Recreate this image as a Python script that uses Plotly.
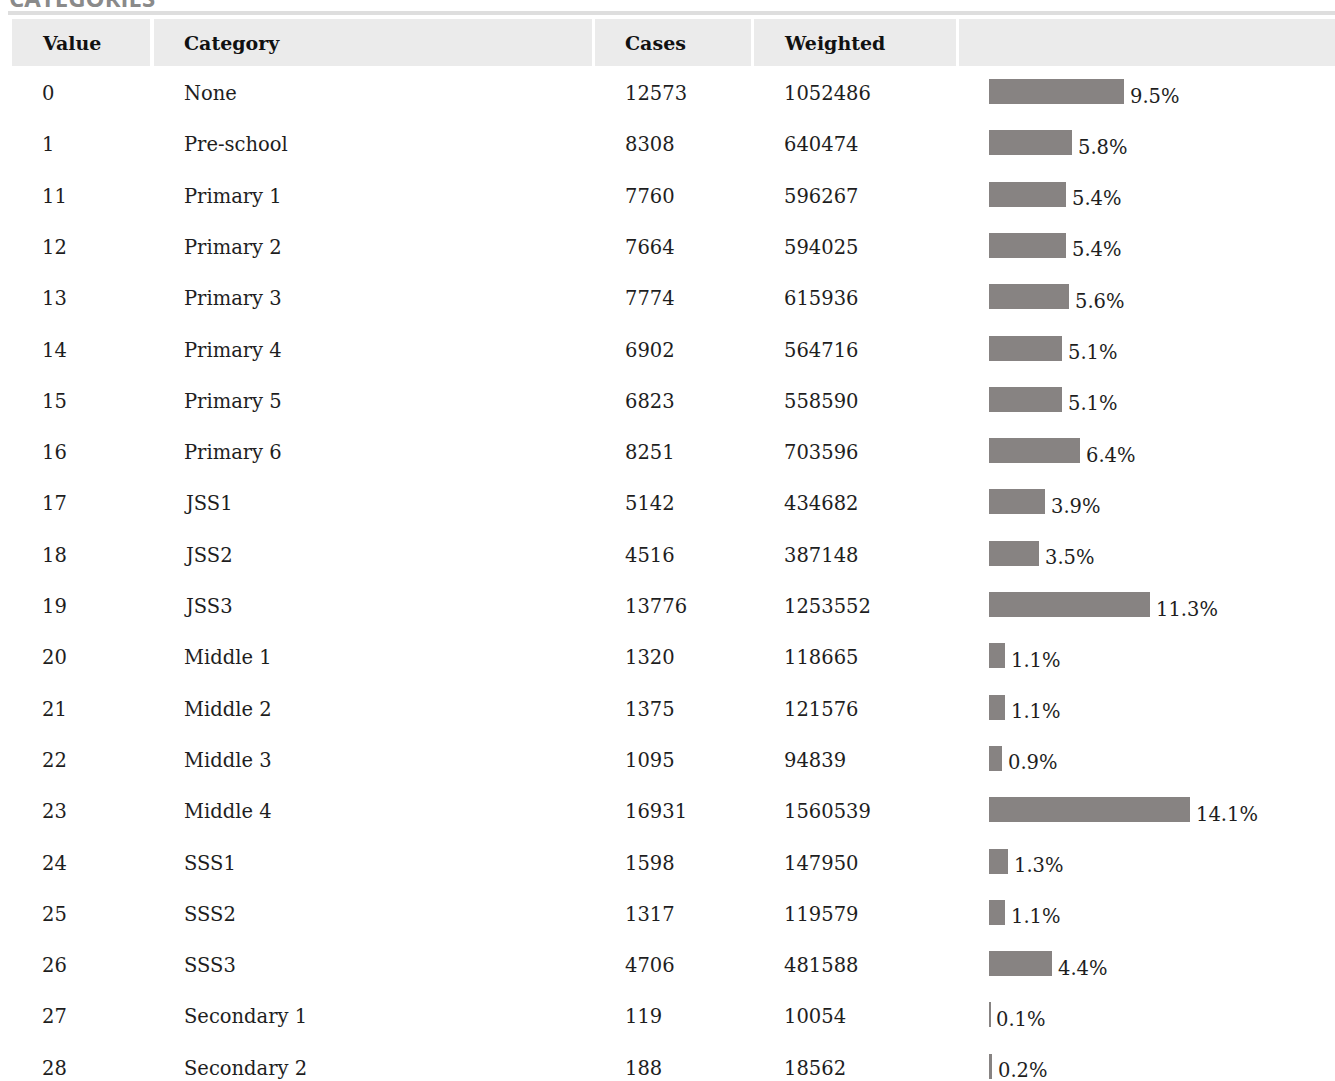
import plotly.graph_objects as go

# ---- data ----
values = ["0", "1", "11", "12", "13", "14", "15", "16", "17", "18", "19",
          "20", "21", "22", "23", "24", "25", "26", "27", "28"]
categories = ["None", "Pre-school", "Primary 1", "Primary 2", "Primary 3", "Primary 4",
              "Primary 5", "Primary 6", "JSS1", "JSS2", "JSS3", "Middle 1", "Middle 2",
              "Middle 3", "Middle 4", "SSS1", "SSS2", "SSS3", "Secondary 1", "Secondary 2"]
cases = [12573, 8308, 7760, 7664, 7774, 6902, 6823, 8251, 5142, 4516, 13776,
         1320, 1375, 1095, 16931, 1598, 1317, 4706, 119, 188]
weighted = [1052486, 640474, 596267, 594025, 615936, 564716, 558590, 703596, 434682, 387148,
            1253552, 118665, 121576, 94839, 1560539, 147950, 119579, 481588, 10054, 18562]
percent = [9.5, 5.8, 5.4, 5.4, 5.6, 5.1, 5.1, 6.4, 3.9, 3.5, 11.3,
           1.1, 1.1, 0.9, 14.1, 1.3, 1.1, 4.4, 0.1, 0.2]
headers = ["Value", "Category", "Cases", "Weighted", ""]
title = "CATEGORIES"

# ---- layout geometry (pixels) ----
W, H = 1335, 1081
ROW0 = 93.5          # pixel centre of first row
ROWH = 51.3          # row pitch
BAR_X0 = 989
PX_PER_PCT = 14.25
FONT = "DejaVu Serif"
BAR_COLOR = "#878382"

rows = list(range(len(values)))


def px(x):
    return x / W


def py(y):
    return 1 - y / H


fig = go.Figure()

fig.add_trace(go.Bar(
    x=percent, y=rows, orientation="h",
    marker=dict(color=BAR_COLOR, line=dict(width=0)),
    width=25 / ROWH, offset=-14.5 / ROWH,
    hoverinfo="skip", showlegend=False,
))

annotations = []
# title (partly cut at the top edge)
annotations.append(dict(text="<b>" + title + "</b>", xref="paper", yref="paper",
                        x=px(7), y=py(-3), xanchor="left", yanchor="middle",
                        showarrow=False,
                        font=dict(family="Open Sans", size=24, color="#8a8a8a")))

col_x = [40, 182, 623, 782]
for hx, h in zip(col_x, headers[:4]):
    annotations.append(dict(text="<b>" + h + "</b>", xref="paper", yref="paper",
                            x=px(hx), y=py(42.5), xanchor="left", yanchor="middle",
                            showarrow=False, font=dict(family=FONT, size=19, color="#111")))

for i in rows:
    for cx, txt in zip(col_x, [values[i], categories[i], str(cases[i]), str(weighted[i])]):
        annotations.append(dict(text=txt, xref="paper", yref="y", x=px(cx), y=i,
                                xanchor="left", yanchor="middle", showarrow=False,
                                font=dict(family=FONT, size=19.5, color="#1e1e1e")))
    annotations.append(dict(text=f"{percent[i]:.1f}%", xref="x", yref="y",
                            x=percent[i], y=i, xanchor="left", yanchor="middle",
                            xshift=4, yshift=-2.5, showarrow=False,
                            font=dict(family=FONT, size=19.5, color="#1e1e1e")))

shapes = []
# top rule
shapes.append(dict(type="rect", xref="paper", yref="paper", x0=px(8), x1=px(W),
                   y0=py(11), y1=py(15), fillcolor="#dedede", line=dict(width=0), layer="below"))
# header cells
for x0, x1 in [(12, 150), (154, 592), (595, 751), (754, 956), (959, W)]:
    shapes.append(dict(type="rect", xref="paper", yref="paper", x0=px(x0), x1=px(x1),
                       y0=py(19), y1=py(66), fillcolor="#ebebeb", line=dict(width=0),
                       layer="below"))

fig.update_layout(
    width=W, height=H,
    margin=dict(l=0, r=0, t=0, b=0),
    paper_bgcolor="white", plot_bgcolor="white",
    xaxis=dict(domain=[px(BAR_X0), 1], range=[0, (W - BAR_X0) / PX_PER_PCT],
               visible=False, fixedrange=True),
    yaxis=dict(range=[(H - ROW0) / ROWH, -ROW0 / ROWH], visible=False, fixedrange=True),
    annotations=annotations,
    shapes=shapes,
    showlegend=False,
    bargap=0,
)

fig.write_html(
    "out.html",
    config={"displayModeBar": False},
    post_script="document.body.style.margin='0';document.body.style.overflow='hidden';",
)
